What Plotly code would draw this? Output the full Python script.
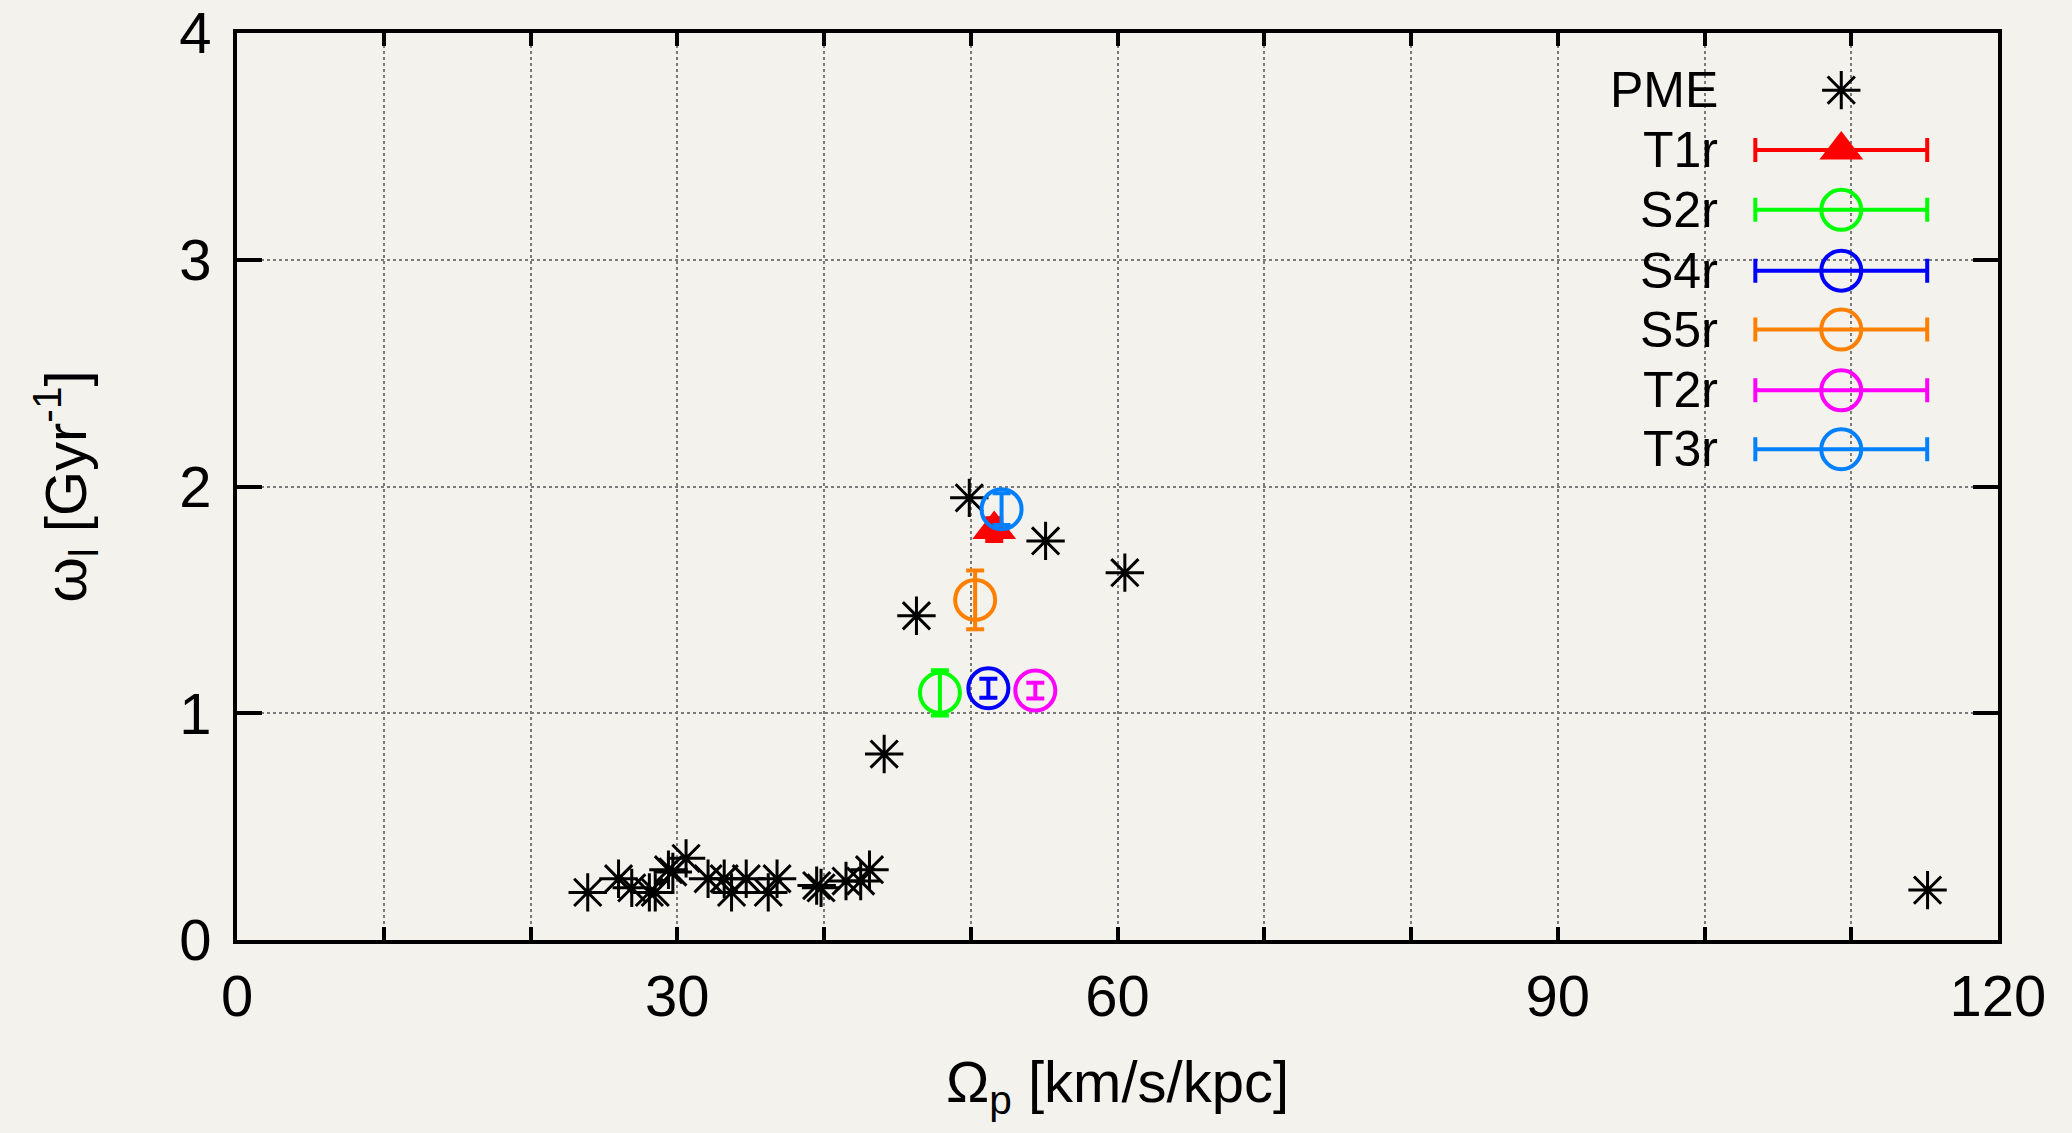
import plotly.graph_objects as go

# ---- data ----
pme_x = [23.9, 26.0, 26.9, 28.1, 28.5, 29.4, 29.7, 30.6, 32.1, 33.2, 33.7, 34.7, 36.2, 36.8,
         39.5, 39.8, 41.5, 42.5, 43.1, 44.1, 46.3, 49.9, 55.1, 60.5, 115.2]
pme_y = [0.21, 0.27, 0.23, 0.21, 0.21, 0.31, 0.30, 0.36, 0.27, 0.27, 0.21, 0.27, 0.21, 0.27,
         0.24, 0.23, 0.26, 0.26, 0.31, 0.82, 1.43, 1.95, 1.76, 1.62, 0.22]

series_names = ["T1r", "S2r", "S4r", "S5r", "T2r", "T3r"]
series_x = [51.6, 47.9, 51.2, 50.3, 54.4, 52.1]
series_y = [1.81, 1.09, 1.11, 1.50, 1.10, 1.90]
series_err = [0.05, 0.10, 0.042, 0.13, 0.035, 0.07]
series_colors = ["#ff0000", "#00ff00", "#0000ff", "#ff8000", "#ff00ff", "#0080ff"]
series_symbols = ["triangle-up", "circle-open", "circle-open", "circle-open", "circle-open", "circle-open"]

x_ticks = [0, 30, 60, 90, 120]
x_minor_ticks = [10, 20, 40, 50, 70, 80, 100, 110]
y_ticks = [0, 1, 2, 3, 4]

FONT = "Liberation Sans, Arial, Helvetica, sans-serif"
BG = "#f4f2ed"
GRID = "#7a7a7a"

fig = go.Figure()

# PME stars
fig.add_trace(go.Scatter(
    x=pme_x, y=pme_y, mode="markers", name="PME", showlegend=False,
    marker=dict(symbol="asterisk-open", size=32, color="black",
                line=dict(color="black", width=3)),
))

for name, x, y, e, c, s in zip(series_names, series_x, series_y, series_err, series_colors, series_symbols):
    if s == "triangle-up":
        mk = dict(symbol=s, size=38, color=c, line=dict(width=0))
    else:
        mk = dict(symbol=s, size=40, color=c, line=dict(color=c, width=4))
    fig.add_trace(go.Scatter(
        x=[x], y=[y], mode="markers", name=name, showlegend=False,
        marker=mk,
        error_y=dict(type="data", array=[e], color=c, thickness=4, width=9),
    ))

# ---- custom key (gnuplot style: text left, sample right) on overlay axes ----
key_rows_y = [0.937, 0.871, 0.805, 0.738, 0.673, 0.606, 0.541]
key_text_x = 0.842
key_sample_x = 0.911
key_half = 0.0488

fig.add_trace(go.Scatter(
    x=[key_sample_x], y=[key_rows_y[0]], xaxis="x2", yaxis="y2", mode="markers",
    showlegend=False, hoverinfo="skip",
    marker=dict(symbol="asterisk-open", size=32, color="black", line=dict(color="black", width=3)),
))
for i, (name, c, s) in enumerate(zip(series_names, series_colors, series_symbols)):
    ry = key_rows_y[i + 1]
    if s == "triangle-up":
        mk = dict(symbol=s, size=38, color=c, line=dict(width=0))
    else:
        mk = dict(symbol=s, size=40, color=c, line=dict(color=c, width=4))
    fig.add_trace(go.Scatter(
        x=[key_sample_x], y=[ry], xaxis="x2", yaxis="y2", mode="markers",
        showlegend=False, hoverinfo="skip", marker=mk,
        error_x=dict(type="constant", value=key_half, color=c, thickness=4, width=12),
    ))

key_names = ["PME"] + series_names
annotations = []
for name, ry in zip(key_names, key_rows_y):
    annotations.append(dict(
        x=key_text_x, y=ry, xref="x2", yref="y2", text=name, showarrow=False,
        xanchor="right", yanchor="middle", font=dict(family=FONT, size=50, color="black"),
    ))

axis_common = dict(
    showline=True, linecolor="black", linewidth=4, mirror="ticks",
    ticks="inside", tickcolor="black", tickwidth=4,
    showgrid=True, gridcolor=GRID, gridwidth=2, griddash="dot",
    zeroline=False, tickfont=dict(family=FONT, size=58, color="black"),
    automargin=False, ticklabeloverflow="allow",
)

fig.update_layout(
    width=2072, height=1133,
    paper_bgcolor=BG, plot_bgcolor=BG,
    margin=dict(l=237, r=74, t=33, b=193),
    showlegend=False,
    annotations=annotations,
    xaxis=dict(
        range=[0, 120], tickmode="array", tickvals=x_ticks, ticktext=[str(v) for v in x_ticks],
        ticklen=13, ticklabelstandoff=2,
        minor=dict(tickmode="array", tickvals=x_minor_ticks, ticks="inside", ticklen=13,
                   tickwidth=4, tickcolor="black", showgrid=True, gridcolor=GRID,
                   gridwidth=2, griddash="dot"),
        title=dict(text="Ω<sub>p</sub> [km/s/kpc]", font=dict(family=FONT, size=58, color="black"), standoff=36),
        **axis_common,
    ),
    yaxis=dict(
        range=[0, 4], tickmode="array", tickvals=y_ticks, ticktext=[str(v) for v in y_ticks],
        ticklen=25, ticklabelstandoff=10,
        title=dict(text="ω<sub>l</sub> [Gyr<sup>-1</sup>]", font=dict(family=FONT, size=58, color="black"), standoff=75),
        **axis_common,
    ),
    xaxis2=dict(overlaying="x", range=[0, 1], visible=False, fixedrange=True),
    yaxis2=dict(overlaying="y", range=[0, 1], visible=False, fixedrange=True),
)

fig.write_html("out.html", config={"displayModeBar": False})

# remove default page margins so the figure fills the window exactly
with open("out.html", "r", encoding="utf-8") as f:
    html = f.read()
html = html.replace("<head>", "<head><style>html,body{margin:0;padding:0;overflow:hidden;background:%s;}</style>" % BG, 1)
with open("out.html", "w", encoding="utf-8") as f:
    f.write(html)
